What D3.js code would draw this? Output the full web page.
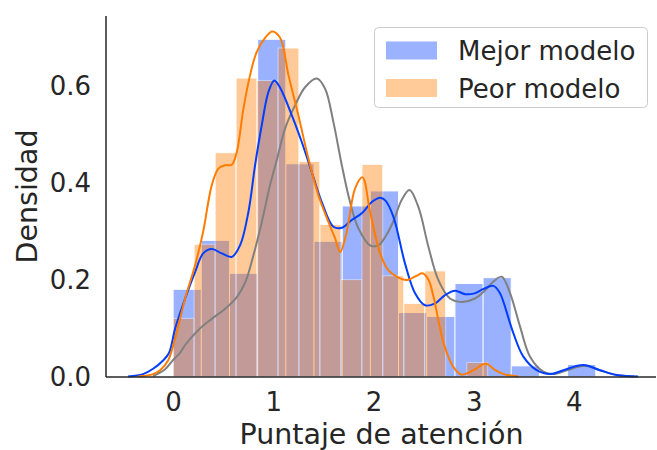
<!DOCTYPE html>
<html>
<head>
<meta charset="utf-8">
<script src="https://cdn.jsdelivr.net/npm/d3@7"></script>
<style>
  html, body { margin: 0; padding: 0; background: #fff; }
  svg { display: block; font-family: "DejaVu Sans", sans-serif; }
</style>
</head>
<body>
<svg id="chart" width="657" height="450"></svg>
<script>
// Histogram bin edges and densities for each model
const mejorEdges = [0, 0.281, 0.563, 0.844, 1.125, 1.406, 1.688, 1.969, 2.25, 2.531, 2.813, 3.094, 3.375, 3.656, 3.938, 4.219];
const mejorDensity = [0.181, 0.282, 0.214, 0.697, 0.44, 0.28, 0.353, 0.384, 0.133, 0.125, 0.193, 0.205, 0.023, 0, 0.026];

const peorEdges = [0, 0.209, 0.419, 0.628, 0.837, 1.047, 1.256, 1.465, 1.675, 1.884, 2.093, 2.303, 2.512, 2.721, 2.931, 3.14];
const peorDensity = [0.121, 0.274, 0.463, 0.617, 0.612, 0.679, 0.445, 0.315, 0.201, 0.439, 0.209, 0.152, 0.219, 0, 0.03];

// Kernel density estimates: [puntaje, densidad]
const mejorKde = [[-0.45,0.001],[-0.3,0.006],[-0.2,0.017],[-0.1,0.034],[-0.04,0.05],[0.02,0.1],[0.12,0.162],[0.22,0.217],[0.3,0.255],[0.386,0.264],[0.486,0.255],[0.586,0.248],[0.669,0.272],[0.752,0.341],[0.818,0.437],[0.885,0.52],[0.951,0.588],[1.01,0.612],[1.068,0.597],[1.185,0.54],[1.284,0.485],[1.384,0.423],[1.484,0.361],[1.6,0.31],[1.684,0.308],[1.783,0.324],[1.883,0.338],[1.983,0.361],[2.066,0.37],[2.12,0.364],[2.2,0.33],[2.315,0.234],[2.415,0.173],[2.515,0.148],[2.615,0.152],[2.714,0.169],[2.814,0.178],[2.914,0.171],[3.0,0.172],[3.1,0.182],[3.197,0.188],[3.26,0.174],[3.297,0.155],[3.397,0.09],[3.496,0.042],[3.63,0.014],[3.763,0.006],[3.895,0.014],[4.095,0.025],[4.26,0.014],[4.43,0.004],[4.64,0.001]];

const peorKde = [[-0.35,0.001],[-0.2,0.006],[-0.13,0.014],[-0.05,0.034],[0.02,0.08],[0.12,0.162],[0.22,0.231],[0.3,0.3],[0.386,0.396],[0.452,0.43],[0.52,0.437],[0.586,0.438],[0.636,0.465],[0.702,0.554],[0.768,0.623],[0.835,0.671],[0.918,0.7],[0.99,0.713],[1.068,0.7],[1.151,0.623],[1.25,0.54],[1.35,0.451],[1.45,0.375],[1.55,0.32],[1.617,0.286],[1.667,0.258],[1.733,0.3],[1.816,0.389],[1.89,0.412],[1.966,0.341],[2.066,0.255],[2.15,0.22],[2.232,0.207],[2.33,0.2],[2.43,0.209],[2.49,0.214],[2.55,0.2],[2.6,0.165],[2.7,0.07],[2.8,0.02],[2.88,0.005],[3.0,0.014],[3.12,0.028],[3.21,0.015],[3.3,0.006],[3.45,0.001]];

const otroKde = [[-0.2,0.002],[-0.08,0.016],[0.0,0.035],[0.07,0.05],[0.12,0.066],[0.252,0.097],[0.386,0.12],[0.52,0.141],[0.636,0.165],[0.719,0.195],[0.8,0.25],[0.885,0.32],[0.968,0.396],[1.04,0.452],[1.118,0.513],[1.218,0.561],[1.317,0.598],[1.434,0.616],[1.517,0.595],[1.6,0.526],[1.684,0.437],[1.766,0.361],[1.849,0.307],[1.97,0.271],[2.05,0.272],[2.12,0.29],[2.2,0.322],[2.28,0.365],[2.36,0.386],[2.448,0.351],[2.548,0.269],[2.648,0.2],[2.764,0.162],[2.88,0.155],[3.014,0.162],[3.114,0.179],[3.197,0.197],[3.28,0.207],[3.363,0.173],[3.463,0.104],[3.563,0.042],[3.696,0.011],[3.796,0.006],[3.929,0.014],[4.112,0.023],[4.26,0.014],[4.43,0.004],[4.6,0.001]];

const xTicks = [0, 1, 2, 3, 4];
const yTicks = [0.0, 0.2, 0.4, 0.6];
const legendLabels = ["Mejor modelo", "Peor modelo"];

const colors = { mejor: "#023eff", peor: "#ff7c00", otro: "#808080", text: "#262626" };

const svg = d3.select("#chart");
const plot = { left: 106, right: 656, top: 16, bottom: 377 };

const x = d3.scaleLinear().domain([-0.67, 4.82]).range([plot.left, plot.right]);
const y = d3.scaleLinear().domain([0, 0.745]).range([plot.bottom, plot.top]);

function bins(edges, density) {
  return density.map((d, i) => ({ x0: edges[i], x1: edges[i + 1], d }));
}

function drawHist(data, color) {
  svg.append("g").selectAll("rect")
    .data(data.filter(b => b.d > 0))
    .join("rect")
    .attr("x", b => x(b.x0))
    .attr("width", b => x(b.x1) - x(b.x0))
    .attr("y", b => y(b.d))
    .attr("height", b => y(0) - y(b.d))
    .attr("fill", color)
    .attr("stroke", "#fff")
    .attr("stroke-width", 1)
    .attr("opacity", 0.4);
}

drawHist(bins(mejorEdges, mejorDensity), colors.mejor);
drawHist(bins(peorEdges, peorDensity), colors.peor);

const line = d3.line()
  .x(p => x(p[0]))
  .y(p => y(p[1]))
  .curve(d3.curveCatmullRom.alpha(0.5));

[[otroKde, colors.otro], [mejorKde, colors.mejor], [peorKde, colors.peor]].forEach(([pts, c]) => {
  svg.append("path")
    .attr("d", line(pts))
    .attr("fill", "none")
    .attr("stroke", c)
    .attr("stroke-width", 2);
});

// Axes: left and bottom spines only, no tick marks
const xAxis = svg.append("g")
  .attr("transform", `translate(0,${plot.bottom})`)
  .call(d3.axisBottom(x).tickValues(xTicks).tickFormat(d3.format("d")).tickSize(0).tickPadding(16));
xAxis.select(".domain").attr("stroke", colors.text).attr("stroke-width", 1.5).attr("d", `M${plot.left},0H${plot.right}`);
xAxis.selectAll("text").attr("font-size", 26).attr("fill", colors.text).attr("font-family", "DejaVu Sans");

const yAxis = svg.append("g")
  .attr("transform", `translate(${plot.left},0)`)
  .call(d3.axisLeft(y).tickValues(yTicks).tickFormat(d3.format(".1f")).tickSize(0).tickPadding(15));
yAxis.select(".domain").attr("stroke", colors.text).attr("stroke-width", 1.5).attr("d", `M0,${plot.top}V${plot.bottom}`);
yAxis.selectAll("text").attr("font-size", 26).attr("fill", colors.text).attr("font-family", "DejaVu Sans");

svg.append("text")
  .attr("x", (plot.left + plot.right) / 2 + 0.5)
  .attr("y", 444)
  .attr("text-anchor", "middle")
  .attr("font-size", 28.5)
  .attr("fill", colors.text)
  .text("Puntaje de atención");

svg.append("text")
  .attr("transform", `translate(37,${(plot.top + plot.bottom) / 2}) rotate(-90)`)
  .attr("text-anchor", "middle")
  .attr("font-size", 28.5)
  .attr("fill", colors.text)
  .text("Densidad");

// Legend
const legend = svg.append("g");
legend.append("rect")
  .attr("x", 374.5).attr("y", 27.5)
  .attr("width", 273).attr("height", 80)
  .attr("rx", 4)
  .attr("fill", "#fff").attr("fill-opacity", 0.8)
  .attr("stroke", "#cccccc").attr("stroke-width", 1);

[[colors.mejor, legendLabels[0]], [colors.peor, legendLabels[1]]].forEach(([c, label], i) => {
  const cy = 50.5 + i * 37.5;
  legend.append("rect")
    .attr("x", 386).attr("y", cy - 9)
    .attr("width", 51).attr("height", 18)
    .attr("fill", c).attr("opacity", 0.4);
  legend.append("text")
    .attr("x", 458).attr("y", cy + 9.5)
    .attr("font-size", 26)
    .attr("fill", colors.text)
    .text(label);
});
</script>
</body>
</html>
